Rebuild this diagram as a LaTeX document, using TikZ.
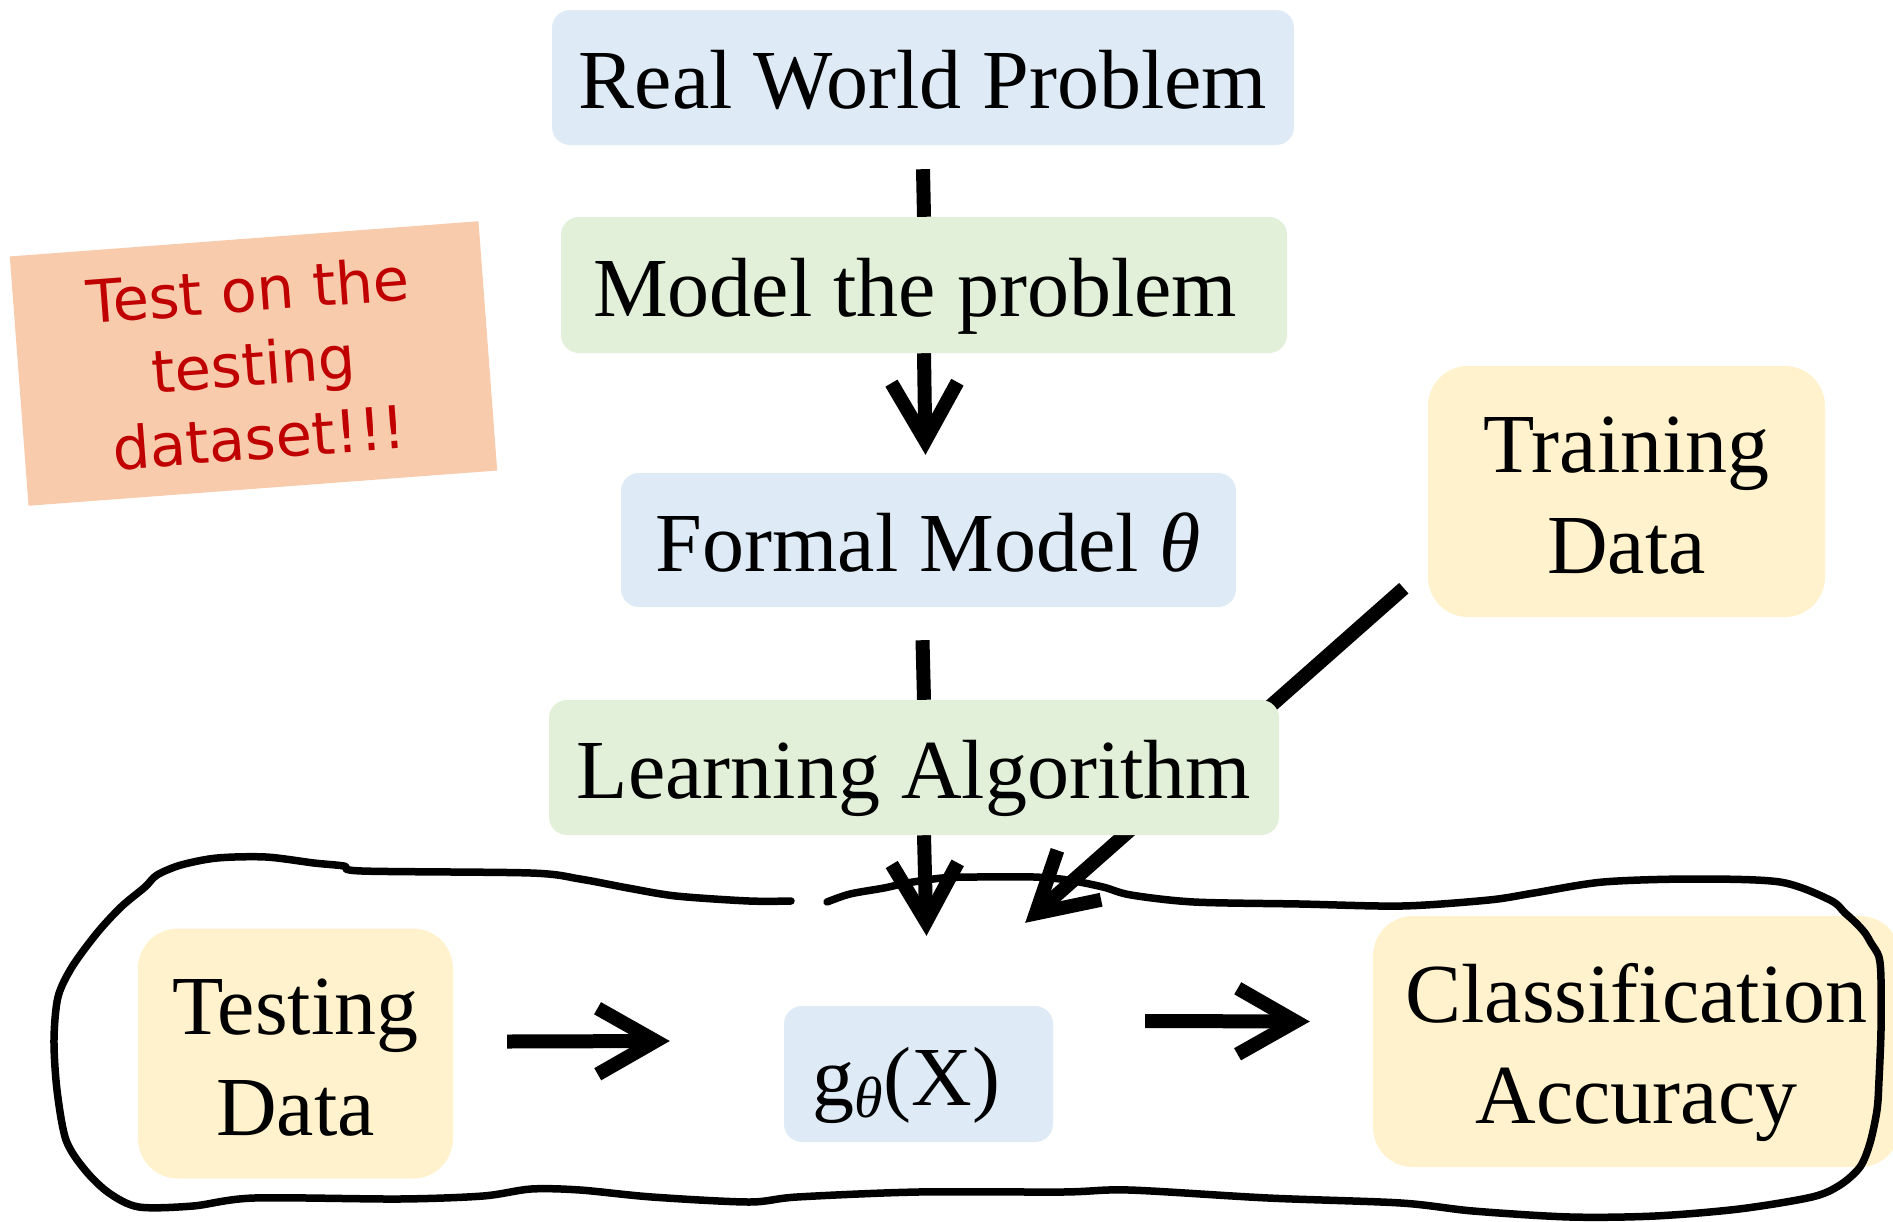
\documentclass[tikz,border=0pt]{standalone}
\usepackage{fontspec}
\setmainfont{Liberation Serif}
\newfontfamily\notefont{DejaVu Sans}
\usetikzlibrary{arrows.meta}

\definecolor{boxblue}{HTML}{DEEBF7}
\definecolor{boxgreen}{HTML}{E2F0D9}
\definecolor{boxyellow}{HTML}{FFF2CC}
\definecolor{notefill}{HTML}{F8CBAD}
\definecolor{notered}{HTML}{C00000}

% one line of box text: fixed height above the baseline, no depth
\newcommand{\oneline}[1]{\rule{0pt}{62pt}\smash{#1}}
% two centred lines with a fixed distance between the baselines
\newcommand{\twoline}[2]{\vbox{\baselineskip=101pt\lineskiplimit=0pt
  \halign{\hfil##\hfil\cr\rule{0pt}{62pt}\smash{#1}\cr\smash{#2}\cr}}}

\tikzset{
  box/.style={rectangle, rounded corners=18pt, inner sep=0pt,
    font=\fontsize{84}{101}\selectfont},
  bigbox/.style={box, rounded corners=40pt},
  conn/.style={line width=14pt},
  arr/.style={conn, -{Straight Barb[length=58pt,width=66pt]}},
  loopline/.style={line width=7.5pt, line join=round, line cap=round},
  stickynote/.style={rectangle, fill=notefill, rotate=4.3, inner sep=0pt,
    minimum width=470pt, minimum height=250pt, align=center, text=notered,
    font=\notefont\fontsize{59}{74}\selectfont},
}

\begin{document}
\begin{tikzpicture}[x=1pt, y=-1pt]
\useasboundingbox (0,0) rectangle (1893,1221);
\fill[white] (0,0) rectangle (1893,1221);
\clip (0,0) rectangle (1893,1221);

% node positions
\path
  (923,77.5)    coordinate (p-rwp)
  (924,285)     coordinate (p-mtp)
  (928.5,540)   coordinate (p-fm)
  (914,767.5)   coordinate (p-la)
  (1626.5,491.5) coordinate (p-trd)
  (295.5,1053.5) coordinate (p-ted)
  (918.5,1074)  coordinate (p-g)
  (1636.5,1041.5) coordinate (p-ca);

% box outlines, placed first so the connectors can refer to them
\node[box, minimum width=742pt, minimum height=135pt] (rwp) at (p-rwp) {};
\node[box, minimum width=726pt, minimum height=136pt] (mtp) at (p-mtp) {};
\node[box, minimum width=615pt, minimum height=134pt] (fm)  at (p-fm)  {};
\node[box, minimum width=730pt, minimum height=135pt] (la)  at (p-la)  {};
\node[bigbox, minimum width=397pt, minimum height=251pt] (trd) at (p-trd) {};
\node[bigbox, minimum width=315pt, minimum height=250pt] (ted) at (p-ted) {};
\node[box, minimum width=269pt, minimum height=136pt] (g)   at (p-g)   {};
\node[bigbox, minimum width=527pt, minimum height=251pt] (ca)  at (p-ca)  {};

% connectors (under the boxes)
\draw[conn] ([yshift=-24pt]rwp.south) -- (mtp.north);
\draw[arr]  (mtp.south) -- ([xshift=-3pt,yshift=18pt]fm.north);
\draw[conn] ([xshift=-6pt,yshift=-33pt]fm.south) -- ([xshift=10pt]la.north);
\draw[arr]  ([xshift=10pt]la.south) -- ([xshift=8pt,yshift=70pt]g.north);
\draw[arr]  ([xshift=-24pt,yshift=29pt]trd.south west) -- ([xshift=-28pt,yshift=83pt]g.north east);
\draw[arr]  ([xshift=54pt,yshift=12pt]ted.east) -- ([xshift=-114pt,yshift=33pt]g.west);
\draw[arr]  ([xshift=92pt,yshift=53pt]g.east) -- ([xshift=-63pt,yshift=20pt]ca.west);

% filled boxes with their texts
\node[box, fill=boxblue, minimum width=742pt, minimum height=135pt] at (rwp) {\oneline{Real World Problem}};
\node[box, fill=boxgreen, minimum width=726pt, minimum height=136pt] at (mtp) {\oneline{Model the problem}\hspace*{18pt}};
\node[box, fill=boxblue, minimum width=615pt, minimum height=134pt] at (fm) {\oneline{Formal Model \textit{θ}}};
\node[box, fill=boxgreen, minimum width=730pt, minimum height=135pt] at (la) {\oneline{Learning Algorithm}};
\node[bigbox, fill=boxyellow, minimum width=397pt, minimum height=251pt] at (trd) {\twoline{Training}{Data}};
\node[bigbox, fill=boxyellow, minimum width=315pt, minimum height=250pt] at (ted) {\twoline{Testing}{Data}};
\node[box, fill=boxblue, minimum width=269pt, minimum height=136pt] at (g)
  {\oneline{g\raisebox{-12pt}{\fontsize{58}{58}\selectfont\textit{θ}}(X)}\hspace*{24pt}};
\node[bigbox, fill=boxyellow, minimum width=527pt, minimum height=251pt] at (ca) {\twoline{Classification}{Accuracy}};

% sticky note
\node[stickynote] (note) at (253.5,363.5) {Test on the\\testing\\dataset!!!};

% hand-drawn loop round the testing stage
\draw[loopline] plot[smooth, tension=0.5] coordinates {
  (827,902) (850,894) (884,888) (907,883) (942,878) (976,877) (1034,877)
  (1068,880) (1103,887) (1131,895) (1194,902) (1300,904) (1402,906)
  (1489,900) (1534,893) (1603,882) (1693,879) (1780,882) (1830,900)
  (1845,913) (1856,923) (1865,933) (1871,943) (1879,957) (1881,980)
  (1881,1030) (1879,1080) (1877,1110) (1870,1143) (1860,1167) (1840,1185)
  (1812,1197) (1739,1209) (1655,1216) (1570,1217) (1473,1211) (1401,1203)
  (1268,1198) (1129,1190) (1063,1192) (918,1192) (797,1197) (749,1202)
  (652,1197) (580,1190) (531,1189) (483,1196) (399,1199) (254,1198)
  (193,1206) (139,1207) (109,1193) (85,1170) (66,1140) (57,1090)
  (54,1040) (58,997) (72,967) (97,933) (121,907) (145,887) (157,875)
  (181,865) (217,858) (266,857) (314,863) (344,866) (362,871) (531,873)
  (580,879) (628,888) (676,896) (749,901) (791,901)};
\end{tikzpicture}
\end{document}
